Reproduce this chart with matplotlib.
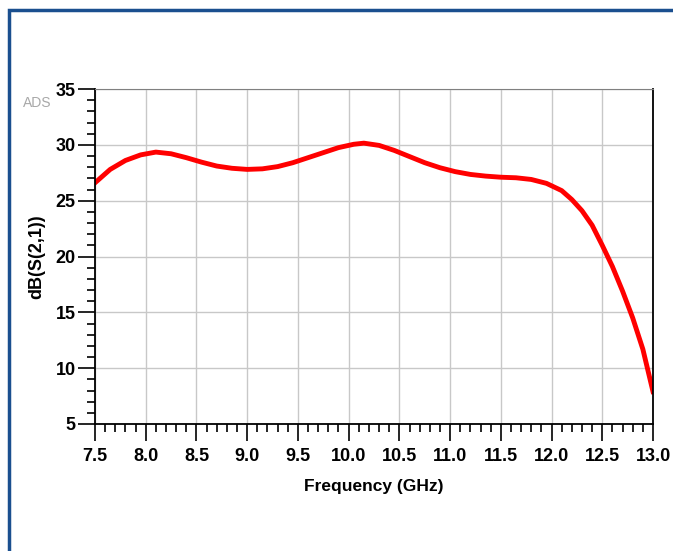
import matplotlib.pyplot as plt
from matplotlib.patches import Rectangle
from matplotlib.ticker import MultipleLocator

plt.rcParams['font.family'] = ['Liberation Sans', 'DejaVu Sans']

# S21
freq = [7.5, 7.65, 7.8, 7.95, 8.1, 8.25, 8.4, 8.55, 8.7, 8.85, 9.0, 9.15, 9.3,
        9.45, 9.6, 9.75, 9.9, 10.05, 10.15, 10.3, 10.45, 10.6, 10.75, 10.9,
        11.05, 11.2, 11.35, 11.5, 11.65, 11.8, 11.95, 12.1, 12.2, 12.3, 12.4,
        12.5, 12.6, 12.7, 12.8, 12.9, 13.0]
s21 = [26.6, 27.8, 28.6, 29.1, 29.35, 29.2, 28.85, 28.45, 28.1, 27.9, 27.8,
       27.85, 28.05, 28.4, 28.85, 29.3, 29.75, 30.05, 30.15, 29.95, 29.5,
       28.95, 28.4, 27.95, 27.6, 27.35, 27.2, 27.1, 27.05, 26.9, 26.55, 25.9,
       25.1, 24.1, 22.8, 21.0, 19.1, 16.9, 14.5, 11.7, 7.9]
xticks = [7.5, 8.0, 8.5, 9.0, 9.5, 10.0, 10.5, 11.0, 11.5, 12.0, 12.5, 13.0]
yticks = [5, 10, 15, 20, 25, 30, 35]

fig = plt.figure(figsize=(6.73, 5.51), dpi=100)

# blue frame (top and left edges visible)
fig.patches.append(Rectangle((9/673, -0.1), 1.2, 1 - 10/551 + 0.1,
                             transform=fig.transFigure, fill=False,
                             edgecolor='#1a4f8f', linewidth=2.5))

ax = fig.add_axes([95/673, 1 - 424/551, 558/673, 335/551])
ax.plot(freq, s21, color='#ff0000', linewidth=3.5)

ax.set_xticks(xticks)
ax.set_xticklabels(['%.1f' % v for v in xticks])
ax.set_yticks(yticks)
ax.xaxis.set_minor_locator(MultipleLocator(0.1))
ax.yaxis.set_minor_locator(MultipleLocator(1))
ax.set_xlim(7.5, 13.0)
ax.set_ylim(5, 35)

ax.grid(True, which='major', color='#c8c8c8', linewidth=1)
ax.tick_params(which='major', length=12, width=1.2, direction='out',
               labelsize=13, pad=2)
ax.tick_params(which='minor', length=6, width=1.2, direction='out')
ax.tick_params(axis='x', which='major', pad=5)
for lab in ax.get_xticklabels() + ax.get_yticklabels():
    lab.set_fontweight('bold')

ax.spines['top'].set_color('#808080')
for s in ['left', 'bottom', 'right']:
    ax.spines[s].set_color('black')
    ax.spines[s].set_linewidth(1.3)

ax.set_xlabel('Frequency (GHz)', fontsize=12.5, fontweight='bold', labelpad=10)
ax.set_ylabel('dB(S(2,1))', fontsize=13, fontweight='bold', labelpad=7)

fig.text(37/673, 1 - 103/551, 'ADS', fontsize=10, color='#a8a8a8',
         ha='center', va='center')

fig.savefig('out.png', dpi=100)
